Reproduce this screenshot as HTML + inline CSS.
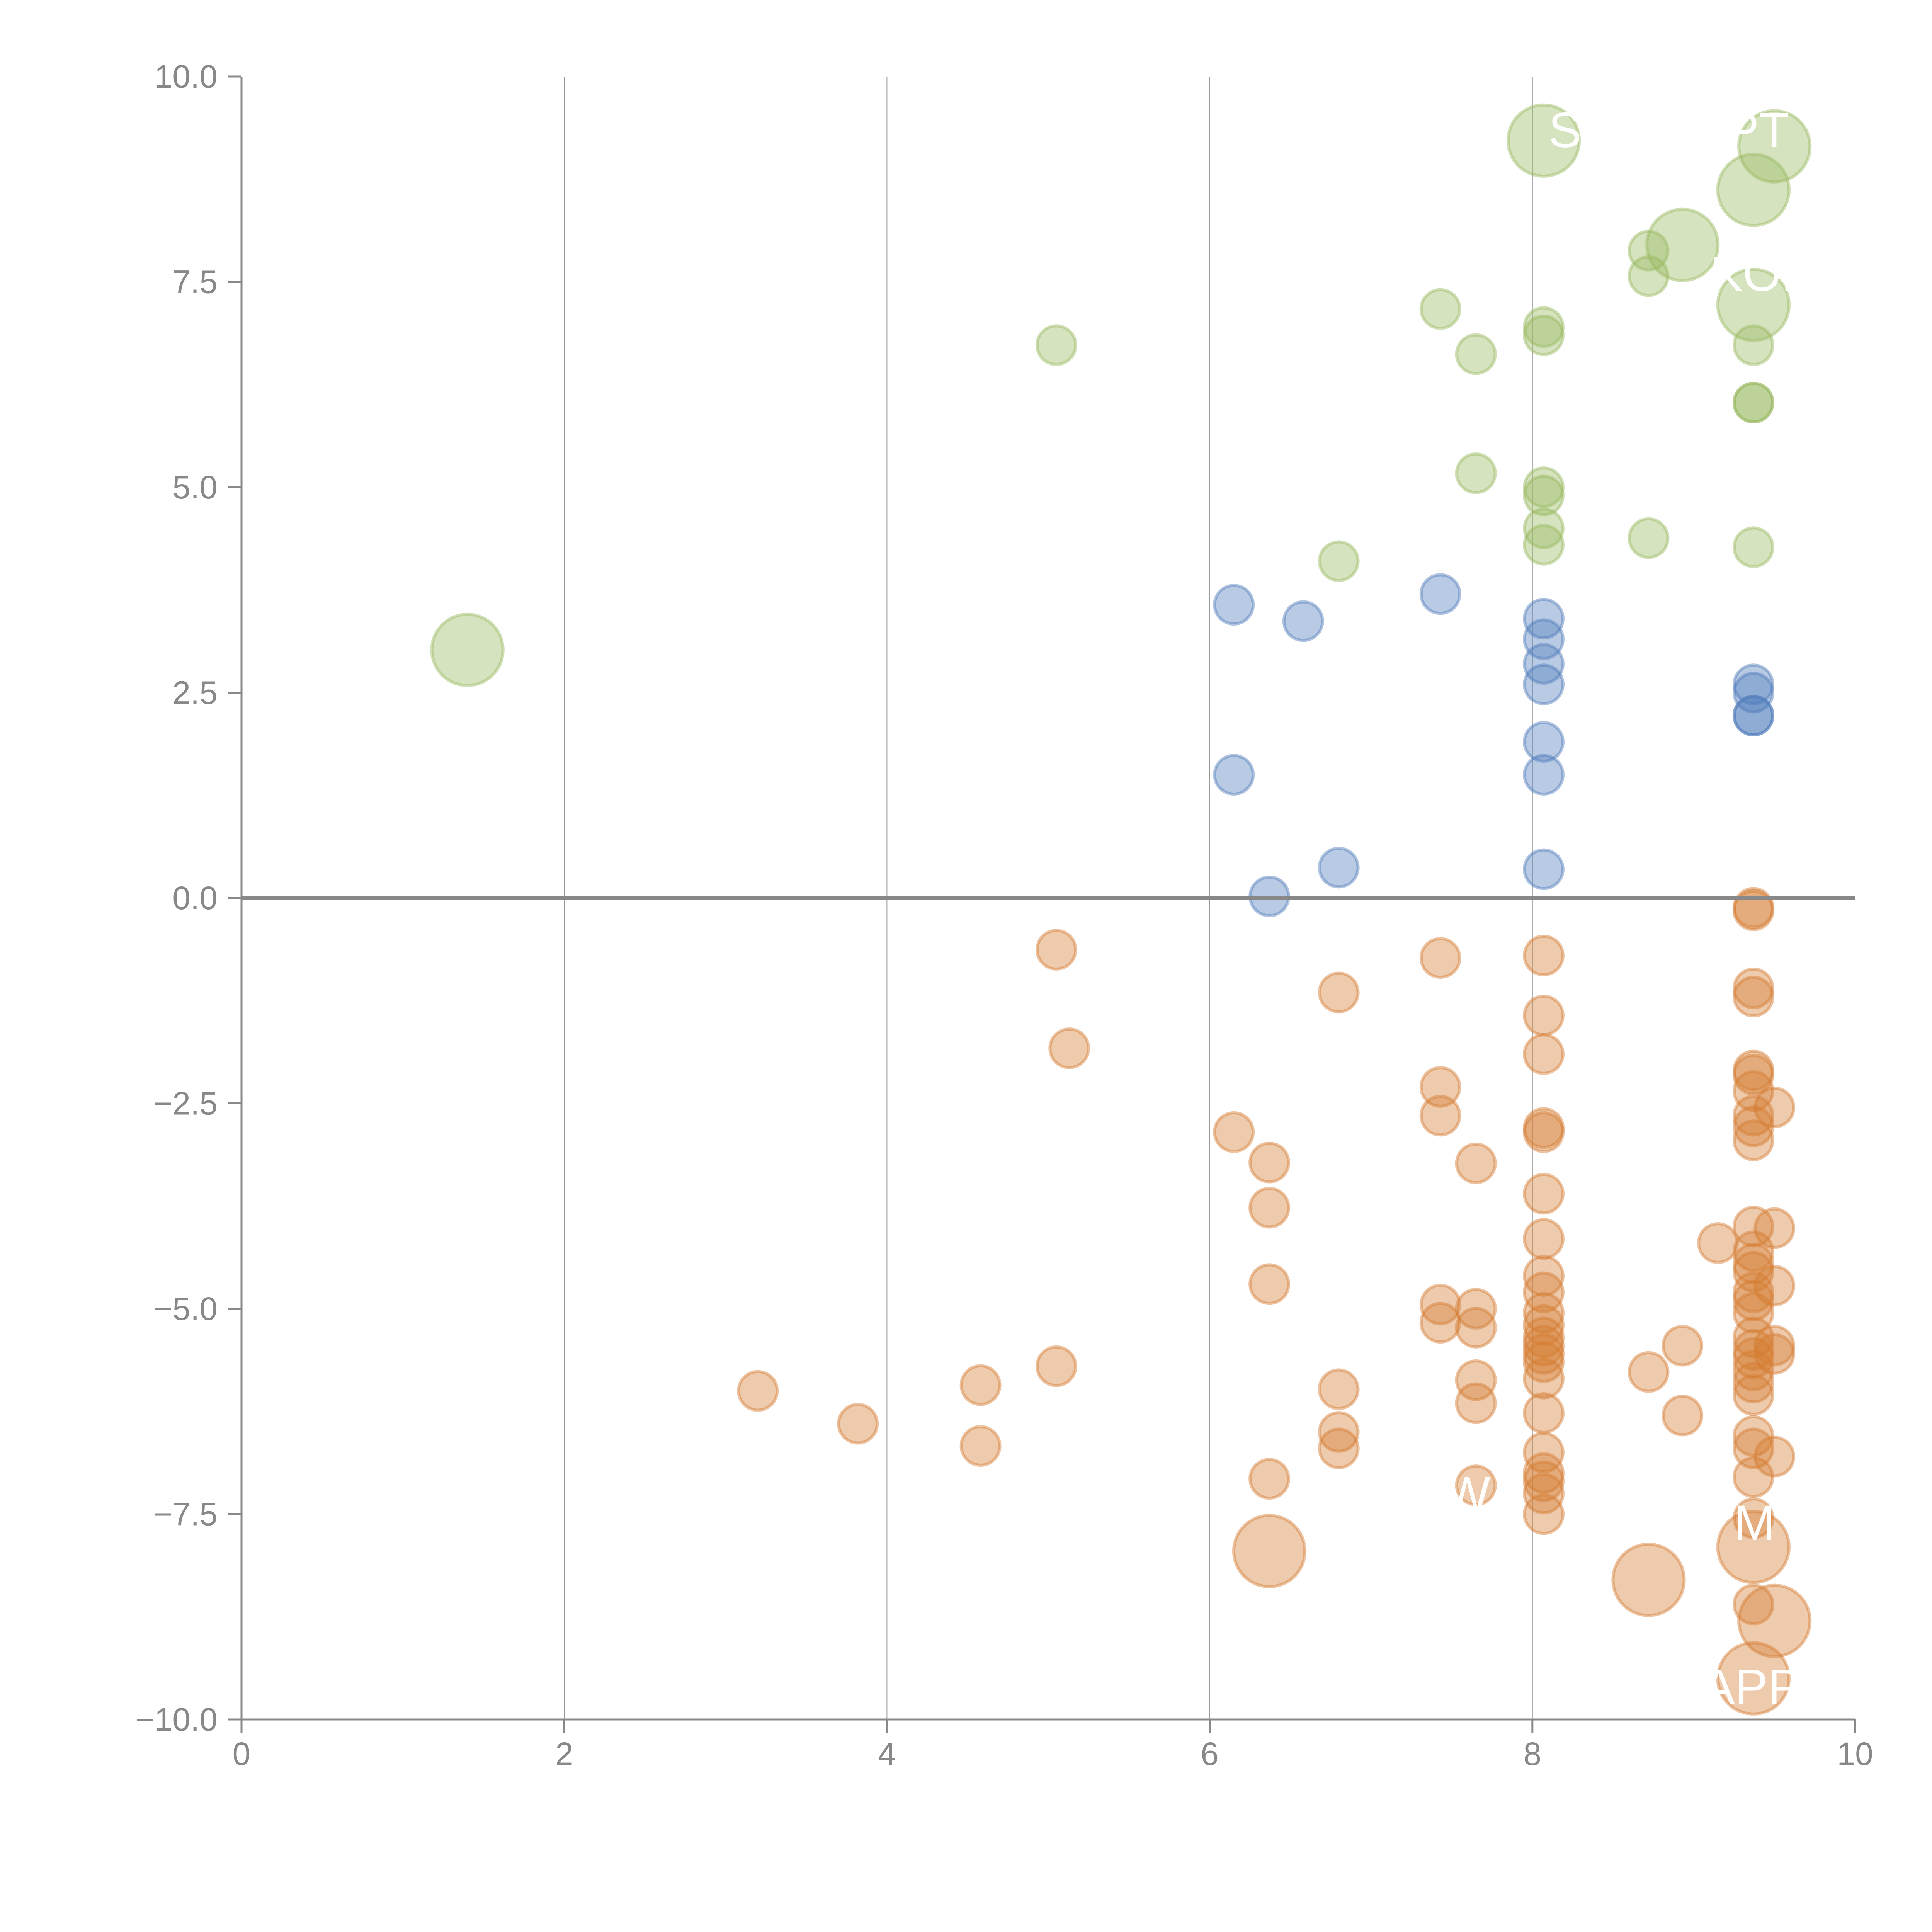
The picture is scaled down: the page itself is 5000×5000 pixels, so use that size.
<!DOCTYPE html>
<html><head><meta charset="utf-8"><style>
html,body{margin:0;padding:0;background:#fff;}
svg{display:block;}
text{font-family:"Liberation Sans",sans-serif;}
</style></head><body>
<svg id="chart" width="5000" height="5000" viewBox="0 0 5000 5000" xmlns="http://www.w3.org/2000/svg">
<g id="grid"></g>
<g id="points"></g>
<g id="axes"></g>
<g id="labels"></g>
</svg>
<script>
const greenX=[1.4,5.05,7.43,7.65,8.07,8.07,8.72,8.72,8.93,9.37,9.5,8.07,9.37,9.37,9.37,9.37,7.65,8.07,8.07,8.07,8.07,8.72,9.37,6.8];
const greenY=[3.02,6.73,7.17,6.62,6.95,6.85,7.88,7.57,7.95,8.62,9.15,9.22,7.22,6.73,6.03,6.03,5.17,5.0,4.9,4.5,4.3,4.38,4.27,4.1];
const greenS=[3.4,1,1,1,1,1,1,1,3.4,3.4,3.4,3.4,3.4,1,1,1,1,1,1,1,1,1,1,1];
const blueX=[6.15,6.58,7.43,8.07,8.07,8.07,8.07,9.37,9.37,9.37,9.37,8.07,8.07,6.15,6.8,8.07,6.37];
const blueY=[3.57,3.37,3.7,3.4,3.15,2.85,2.6,2.6,2.5,2.22,2.22,1.9,1.5,1.5,0.37,0.35,0.02];
const orangeX=[9.37,9.37,5.05,7.43,8.07,6.8,9.37,9.37,8.07,5.13,8.07,9.37,9.37,7.43,9.37,9.5,7.43,9.37,9.37,8.07,8.07,6.15,9.37,6.37,7.65,8.07,6.37,9.37,9.5,8.07,9.15,9.37,9.37,9.37,8.07,6.37,9.5,8.07,9.37,9.37,7.43,7.65,8.07,9.37,8.07,7.43,7.65,8.07,9.37,8.07,9.5,8.93,9.37,8.07,9.5,9.37,8.07,5.05,8.72,9.37,8.07,7.65,9.37,4.58,6.8,3.2,9.37,7.65,8.07,8.93,3.82,6.8,9.37,4.58,9.37,6.8,8.07,9.5,8.07,9.37,6.37,8.07,7.65,8.07,8.07,9.37,6.37,9.37,8.72,9.5,9.37,9.37];
const orangeY=[-0.15,-0.12,-0.63,-0.73,-0.7,-1.15,-1.1,-1.2,-1.43,-1.83,-1.9,-2.1,-2.15,-2.3,-2.35,-2.55,-2.65,-2.65,-2.78,-2.8,-2.85,-2.85,-2.95,-3.22,-3.23,-3.6,-3.77,-4.0,-4.02,-4.15,-4.2,-4.3,-4.45,-4.55,-4.6,-4.7,-4.72,-4.8,-4.8,-4.9,-4.95,-5.0,-5.05,-5.05,-5.2,-5.17,-5.23,-5.35,-5.35,-5.45,-5.45,-5.45,-5.5,-5.55,-5.55,-5.6,-5.65,-5.7,-5.77,-5.75,-5.85,-5.87,-5.9,-5.93,-5.98,-6.0,-6.05,-6.15,-6.27,-6.3,-6.4,-6.5,-6.55,-6.67,-6.7,-6.7,-6.75,-6.8,-7.0,-7.05,-7.07,-7.1,-7.15,-7.25,-7.5,-7.55,-7.95,-7.9,-8.3,-8.8,-8.6,-9.5];
const orangeS=orangeY.map((v,i)=>i>=86&&i!==90?3.4:1);
const xTicks=[0,2,4,6,8,10];
const yTicks=[10,7.5,5,2.5,0,-2.5,-5,-7.5,-10];
const yTickLabels=["10.0","7.5","5.0","2.5","0.0","\u22122.5","\u22125.0","\u22127.5","\u221210.0"];

const NS="http://www.w3.org/2000/svg";
const X0=625,X1=4801,Y0=198,Y1=4450;
function sx(v){return X0+(v-0)/(10-0)*(X1-X0);}
function sy(v){return Y0+(10-v)/(20)*(Y1-Y0);}
function mk(tag,attrs,parent){const e=document.createElementNS(NS,tag);for(const k in attrs)e.setAttribute(k,attrs[k]);parent.appendChild(e);return e;}
const grid=document.getElementById('grid'),pts=document.getElementById('points'),axes=document.getElementById('axes'),labs=document.getElementById('labels');

[2,4,6,8].forEach(t=>{
  const l=mk('line',{x1:sx(t),x2:sx(t),y1:Y0,y2:Y1,stroke:'#999',"stroke-width":2},grid);
  
  
});
function series(xs,ys,ss,col,name){
  xs.forEach((x,i)=>{
    const c=mk('circle',{cx:sx(x),cy:sy(ys[i]),r:50*Math.sqrt(ss?ss[i]:1),fill:col,"fill-opacity":0.4,stroke:col,"stroke-opacity":0.45,"stroke-width":8},pts);
    
    
  });
}
series(greenX,greenY,greenS,'#98b95f','green-point');
series(blueX,blueY,null,'#507dbb','blue-point');
series(orangeX,orangeY,orangeS,'#d47d32','orange-point');

let a=mk('line',{x1:X0,x2:X0,y1:Y0,y2:Y1,stroke:'#888',"stroke-width":5},axes);


a=mk('line',{x1:X0-34,x2:X1,y1:Y1,y2:Y1,stroke:'#888',"stroke-width":5},axes);


a=mk('line',{x1:X0,x2:X1,y1:sy(0),y2:sy(0),stroke:'#888',"stroke-width":8},axes);


xTicks.forEach(t=>{
  const tk=mk('line',{x1:sx(t),x2:sx(t),y1:Y1,y2:Y1+34,stroke:'#888',"stroke-width":5},axes);
  
  
  const tx=mk('text',{x:sx(t),y:Y1+118,"text-anchor":"middle","font-size":84,fill:'#888'},axes);
  tx.textContent=String(t);
  
  
});
yTicks.forEach((t,i)=>{
  const tk=mk('line',{x1:X0-34,x2:X0,y1:sy(t),y2:sy(t),stroke:'#888',"stroke-width":5},axes);
  
  
  const tx=mk('text',{x:X0-62,y:sy(t)+29,"text-anchor":"end","font-size":84,fill:'#888'},axes);
  tx.textContent=yTickLabels[i];
  
  
});
const labelText=["S","PT","KOR","M","W","APP"];
const labelX=[8.1,9.2,9.1,9.25,7.45,9.05];
const labelY=[9.35,9.35,7.6,-7.6,-7.25,-9.6];
labelText.forEach((s,i)=>{
  const tx=mk('text',{x:sx(labelX[i]),y:sy(labelY[i])+45,"font-size":128,fill:'#fff'},labs);
  tx.textContent=s;
  
  
});
</script>
</body></html>
